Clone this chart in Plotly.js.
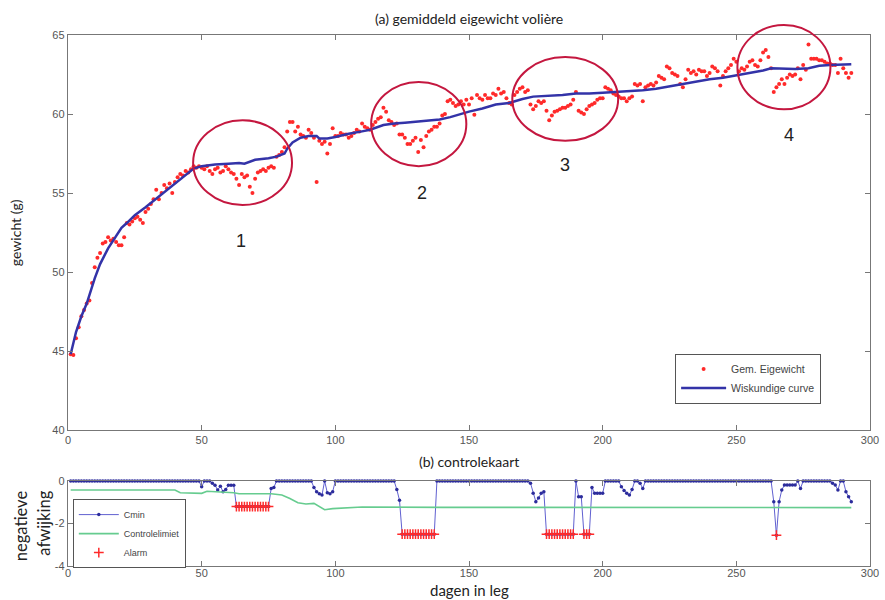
<!DOCTYPE html>
<html>
<head>
<meta charset="utf-8">
<script src="https://cdn.plot.ly/plotly-3.0.1.min.js"></script>
<style>html,body{margin:0;padding:0;background:#fff}#chart{width:885px;height:600px}</style>
</head>
<body>
<div id="chart"></div>
<script>
// ---- Data (a): daily mean egg weight, day 1..293 ----
const gemEigewicht = [
 44.8,44.75,45.8,46.5,47.2,47.6,48.0,48.2,49.3,50.3,
 50.9,51.2,51.8,51.9,52.2,52.0,52.1,51.9,51.7,51.7,
 52.2,53.1,53.0,53.2,53.4,53.5,53.3,53.1,53.8,54.0,
 54.3,54.6,55.2,54.6,55.0,55.5,55.3,55.6,55.0,55.7,
 56.0,56.2,56.1,56.4,56.3,56.5,56.7,56.6,56.7,56.6,
 56.5,56.7,56.4,56.2,56.5,56.6,56.3,56.4,56.7,56.5,
 56.3,56.2,55.9,55.5,56.2,56.0,56.1,55.4,55.0,55.9,
 56.3,56.4,56.5,56.4,56.6,56.7,56.6,57.3,57.4,57.6,
 57.9,58.9,59.5,59.5,58.9,59.2,58.7,58.6,58.5,59.0,
 58.8,58.5,55.7,58.3,58.1,58.25,57.5,58.1,59.1,58.6,
 58.6,58.8,58.7,58.7,58.5,58.6,58.8,59.0,58.9,59.4,
 59.2,59.1,59.0,59.3,59.5,59.7,59.8,60.4,60.15,59.6,
 59.5,59.3,59.4,58.7,58.7,58.5,58.1,58.1,58.3,58.5,
 57.6,58.35,57.9,58.6,58.9,59.0,59.2,59.2,59.4,59.9,
 60.0,60.8,60.9,60.7,60.5,60.6,60.8,60.6,60.9,60.6,
 61.0,59.95,61.2,61.0,60.9,61.2,61.0,61.0,61.3,61.2,
 61.6,61.3,61.4,61.0,60.7,60.6,61.2,61.4,61.6,61.7,
 61.4,61.5,60.6,60.3,60.5,60.8,60.7,60.8,60.2,59.6,
 59.9,60.15,60.2,60.3,60.4,60.4,60.5,60.6,60.9,61.4,
 60.2,60.1,60.0,60.3,60.5,60.6,60.7,60.9,61.0,61.0,
 61.7,61.6,61.5,61.3,61.2,61.1,61.0,61.0,60.8,61.0,
 61.1,61.9,61.8,61.9,60.8,61.7,61.8,61.9,61.8,62.0,
 62.4,62.3,62.2,63.0,62.9,62.6,62.5,62.4,61.9,61.7,
 62.2,62.8,62.6,62.7,62.5,62.8,62.7,62.7,62.4,62.6,
 63.0,62.9,62.7,61.8,62.4,62.7,62.9,63.1,63.5,63.3,
 62.7,62.9,62.8,63.0,63.3,63.4,63.1,63.0,63.4,63.9,
 64.05,63.6,62.9,61.4,61.7,61.9,62.2,61.9,62.3,62.5,
 62.4,62.5,62.9,62.2,63.1,62.8,64.4,63.5,63.5,63.5,
 63.4,63.4,63.3,63.2,63.2,63.1,63.1,62.6,63.5,62.9,
 62.6,62.3,62.6
];
const dagen = gemEigewicht.map((_, i) => i + 1);

// mathematical curve (knots)
const curveDagen = [1,3,5,7,10,12,15,17,20,22,25,29,32,35,38,41,44,47,50,55,60,64,66,70,75,78,81,82,84,87,90,93,94,97,100,105,110,113,118,122,126,130,135,139,143,146,150,155,160,165,170,174,180,185,190,195,200,205,210,215,220,225,230,235,240,245,250,255,260,263,267,272,277,281,285,293];
const curveGewicht = [44.8,46.2,47.2,48.0,49.6,50.5,51.5,52.0,52.8,53.1,53.6,54.1,54.5,54.9,55.3,55.7,56.1,56.55,56.7,56.8,56.85,56.9,56.85,57.1,57.2,57.3,57.5,57.8,58.2,58.5,58.6,58.6,58.45,58.45,58.55,58.75,58.9,59.0,59.3,59.4,59.45,59.5,59.6,59.65,59.8,59.95,60.15,60.35,60.6,60.7,60.95,61.1,61.15,61.2,61.3,61.3,61.35,61.4,61.45,61.5,61.6,61.75,61.9,62.05,62.2,62.3,62.45,62.6,62.75,62.9,62.88,62.85,62.9,63.05,63.1,63.15];

// ---- Data (b): control chart ----
const cmin = [
 0,0,0,0,0,0,0,0,0,0,
 0,0,0,0,0,0,0,0,0,0,
 0,0,0,0,0,0,0,0,0,0,
 0,0,0,0,0,0,0,0,0,0,
 0,0,0,0,0,0,0,0,0,-0.27,
 0,0,0,-0.1,-0.2,-0.42,-0.24,-0.5,-0.4,-0.2,
 -0.2,-0.2,-1.2,-1.2,-1.2,-1.2,-1.2,-1.2,-1.2,-1.2,
 -1.2,-1.2,-1.2,-1.2,-1.2,-0.35,-0.3,0,0,0,
 0,0,0,0,0,0,0,0,0,0,
 0,-0.3,-0.5,-0.6,-0.66,0,-0.55,-0.6,-0.5,0,
 0,0,0,0,0,0,0,0,0,0,
 0,0,0,0,0,0,0,0,0,0,
 0,0,-0.4,-0.9,-2.5,-2.5,-2.5,-2.5,-2.5,-2.5,
 -2.5,-2.5,-2.5,-2.5,-2.5,-2.5,-2.5,0,0,0,
 0,0,0,0,0,0,0,0,0,0,
 0,0,0,0,0,0,0,0,0,0,
 0,0,0,0,0,0,0,0,0,0,
 0,0,-0.1,-0.58,-0.97,-0.8,-0.58,-0.5,-2.5,-2.5,
 -2.5,-2.5,-2.5,-2.5,-2.5,-2.5,-2.5,-2.5,-2.5,0,
 -0.74,-0.74,-2.5,-2.5,-2.5,-0.3,-0.58,-0.58,-0.58,-0.58,
 0,0,0,0,0,0,-0.27,-0.45,-0.58,-0.66,
 -0.4,0,0,-0.1,-0.35,0,0,0,0,0,
 0,0,0,0,0,0,0,0,0,0,
 0,0,0,0,0,0,0,0,0,0,
 0,0,0,0,0,0,0,0,0,0,
 0,0,0,0,0,0,0,0,0,0,
 0,0,0,-0.97,-2.55,-0.97,-0.42,-0.19,-0.19,-0.19,
 -0.19,-0.19,0,-0.35,0,0,0,0,0,0,
 0,0,0,0,0,-0.1,-0.19,-0.42,0,0,
 -0.5,-0.74,-0.97
];
const ctrlDagen = [1,40,42,50,52,62,64,76,80,83,86,89,92,94,96,99,110,140,180,220,260,293];
const ctrlLimiet = [-0.42,-0.42,-0.55,-0.58,-0.48,-0.55,-0.6,-0.6,-0.66,-0.82,-1.02,-1.08,-1.05,-1.2,-1.35,-1.3,-1.22,-1.24,-1.24,-1.25,-1.25,-1.25];

const xTicks = [0,50,100,150,200,250,300];
const yTicksA = [40,45,50,55,60,65];
const yTicksB = [-4,-2,0];
const yTickTextB = ['-4','-2','0'];

// alarm: Cmin below control limit
function limitAt(d){
  for (let k=0;k<ctrlDagen.length-1;k++){
    if (d>=ctrlDagen[k] && d<=ctrlDagen[k+1]){
      const t=(d-ctrlDagen[k])/(ctrlDagen[k+1]-ctrlDagen[k]);
      return ctrlLimiet[k]+t*(ctrlLimiet[k+1]-ctrlLimiet[k]);
    }
  }
  return ctrlLimiet[ctrlLimiet.length-1];
}
const alarmDagen=[], alarmWaarde=[];
cmin.forEach((v,i)=>{ const d=dagen[i]; if (v < limitAt(d)) { alarmDagen.push(d); alarmWaarde.push(v); } });

// ---- layout geometry ----
const domA=[0.2561,1], domB=[0,0.16];
function px(d){ return d/300; }
function py(v){ return domA[0]+(v-40)/25*(domA[1]-domA[0]); }
const circles = [
  [46.8,83.8,54.24,59.6],
  [113.4,149,56.7,62.03],
  [166.2,205.8,58.3,63.6],
  [250.4,285.2,60.3,65.63]
];
const shapes = circles.map(c=>({type:'circle',xref:'paper',yref:'paper',
  x0:px(c[0]),x1:px(c[1]),y0:py(c[2]),y1:py(c[3]),line:{color:'#c4173f',width:2}}));

const labels = [['1',64.7,51.96],['2',132.5,55.0],['3',186,56.8],['4',269.8,58.67]];
const titleFont = {family:'Lato, "Open Sans", sans-serif', size:14, color:'#222'};
function ann(o){ return Object.assign({showarrow:false, xanchor:'center', yanchor:'middle'}, o); }
const annotations = labels.map(l=>ann({text:l[0],x:l[1],y:l[2],xref:'x',yref:'y',
  font:{family:'Liberation Sans, Arial, sans-serif',size:18,color:'#222'}}));
annotations.push(
  ann({text:'(a) gemiddeld eigewicht volière',xref:'paper',yref:'paper',x:0.5,y:1.032,font:titleFont}),
  ann({text:'(b) controlekaart',xref:'paper',yref:'paper',x:0.5,y:0.196,font:titleFont}),
  ann({text:'dagen in leg',xref:'paper',yref:'paper',x:0.5,y:-0.0452,font:{family:titleFont.family,size:15,color:'#222'}}),
  ann({text:'gewicht (g)',xref:'paper',yref:'paper',x:-0.066,y:0.627,textangle:-90,font:titleFont}),
  ann({text:'negatieve',xref:'paper',yref:'paper',x:-0.0586,y:0.075,textangle:-90,font:{family:titleFont.family,size:16.5,color:'#222'}}),
  ann({text:'afwijking',xref:'paper',yref:'paper',x:-0.031,y:0.08,textangle:-90,font:{family:titleFont.family,size:16.5,color:'#222'}})
);

const tickFont = {family:'Liberation Sans, Arial, sans-serif', size:11, color:'#555'};
const axisCommon = {showgrid:false, zeroline:false, showline:true, linecolor:'#777', linewidth:1.2,
  mirror:'ticks', ticks:'inside', ticklen:5, tickcolor:'#777', tickfont:tickFont};

const traces = [
  {x:dagen, y:gemEigewicht, type:'scatter', mode:'markers', name:'Gem. Eigewicht',
   marker:{color:'#ff2a2a', size:4}, xaxis:'x', yaxis:'y', legend:'legend'},
  {x:curveDagen, y:curveGewicht, type:'scatter', mode:'lines', name:'Wiskundige curve',
   line:{color:'#3333a8', width:2.5}, xaxis:'x', yaxis:'y', legend:'legend'},
  {x:dagen, y:cmin, type:'scatter', mode:'lines+markers', name:'Cmin', cliponaxis:false,
   line:{color:'#6060d0', width:1}, marker:{color:'#2c2c9c', size:3.5}, xaxis:'x2', yaxis:'y2', legend:'legend2'},
  {x:ctrlDagen, y:ctrlLimiet, type:'scatter', mode:'lines', name:'Controlelimiet', cliponaxis:false,
   line:{color:'#66cc8f', width:1.6}, xaxis:'x2', yaxis:'y2', legend:'legend2'},
  {x:alarmDagen, y:alarmWaarde, type:'scatter', mode:'markers', name:'Alarm', cliponaxis:false,
   marker:{symbol:'cross-thin-open', color:'#ff2a2a', size:7, line:{color:'#ff2a2a', width:1.5}},
   xaxis:'x2', yaxis:'y2', legend:'legend2'}
];

const layout = {
  width:885, height:600,
  margin:{l:68, r:15, t:35, b:34},
  paper_bgcolor:'#fff', plot_bgcolor:'#fff',
  showlegend:true,
  xaxis:Object.assign({}, axisCommon, {domain:[0,1], range:[0,300], tickvals:xTicks, anchor:'y'}),
  yaxis:Object.assign({}, axisCommon, {domain:domA, range:[40,65], tickvals:yTicksA, anchor:'x'}),
  xaxis2:Object.assign({}, axisCommon, {domain:[0,1], range:[0,300], tickvals:xTicks, anchor:'y2', ticklabelstandoff:-3}),
  yaxis2:Object.assign({}, axisCommon, {domain:domB, range:[-4,0], tickvals:yTicksB, ticktext:yTickTextB, anchor:'x2'}),
  legend:{x:0.757, y:0.4, xanchor:'left', yanchor:'top', bgcolor:'#fff', bordercolor:'#555', borderwidth:1,
    font:{family:'Liberation Sans, Arial, sans-serif', size:10.5, color:'#444'}, itemwidth:45, tracegroupgap:0},
  legend2:{x:0.006, y:0.126, xanchor:'left', yanchor:'top', bgcolor:'#fff', bordercolor:'#555', borderwidth:1,
    font:{family:'Liberation Sans, Arial, sans-serif', size:9, color:'#444'}, itemwidth:40},
  shapes:shapes,
  annotations:annotations
};

Plotly.newPlot('chart', traces, layout, {displayModeBar:false, staticPlot:true});
</script>
</body>
</html>
